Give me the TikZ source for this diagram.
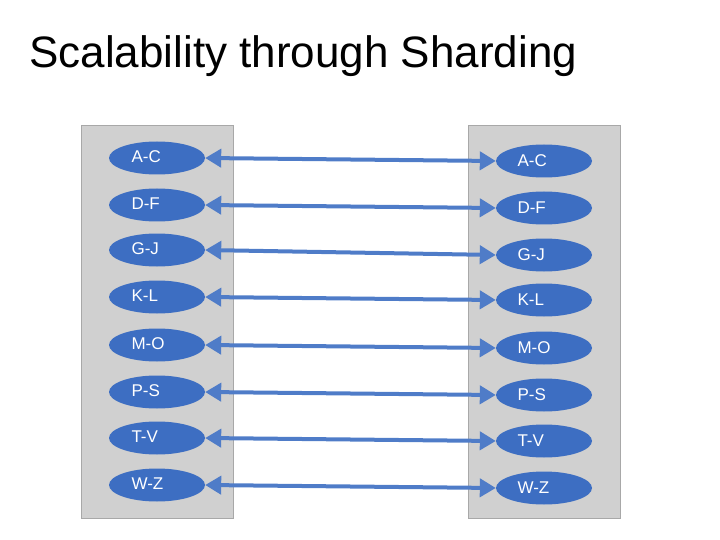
\documentclass[tikz,border=0pt]{standalone}
\usepackage{fontspec}
\setmainfont{Liberation Sans}
\usetikzlibrary{shapes.geometric,arrows.meta}
\definecolor{pan}{HTML}{D0D0D0}
\definecolor{edge}{HTML}{A8A8A8}
\definecolor{ell}{HTML}{3D6EC2}
\definecolor{arr}{HTML}{4F7CC8}
\tikzset{x=1pt,y=-1pt,
 panel/.style={fill=pan,draw=edge,line width=0.8pt},
 shard/.style={ellipse,fill=ell,minimum width=96pt,minimum height=33pt,inner sep=0pt},
 lab/.style={text=white,font=\fontsize{17}{17}\selectfont,anchor=west},
 link/.style={draw=arr,line width=4pt,{Triangle[width=18pt,length=16pt]}-{Triangle[width=18pt,length=16pt]},shorten <=0pt,shorten >=0pt}}
\begin{document}
\begin{tikzpicture}
\useasboundingbox (0,0) rectangle (720,540);
\node[anchor=base west,inner sep=0pt,font=\fontsize{44}{44}\selectfont] (title) at (29,68) {Scalability through Sharding};
\draw[panel] (81,125) rectangle (233,518);
\draw[panel] (468,125) rectangle (620,518);
\foreach \n/\t/\ya/\yb in {1/A-C/158/161,2/D-F/205/208,3/G-J/250/255,4/K-L/297/300,5/M-O/345/348,6/P-S/392/395,7/T-V/438/441,8/W-Z/485/488}{
 \node[shard] (l\n) at (157,\ya) {};
 \node[lab] (lt\n) at (128,\ya-1) {\t};
 \node[shard] (r\n) at (544,\yb) {};
 \node[lab] (rt\n) at (514,\yb) {\t};
 \draw[link] (l\n.east) -- (r\n.west);
}
\end{tikzpicture}
\end{document}
